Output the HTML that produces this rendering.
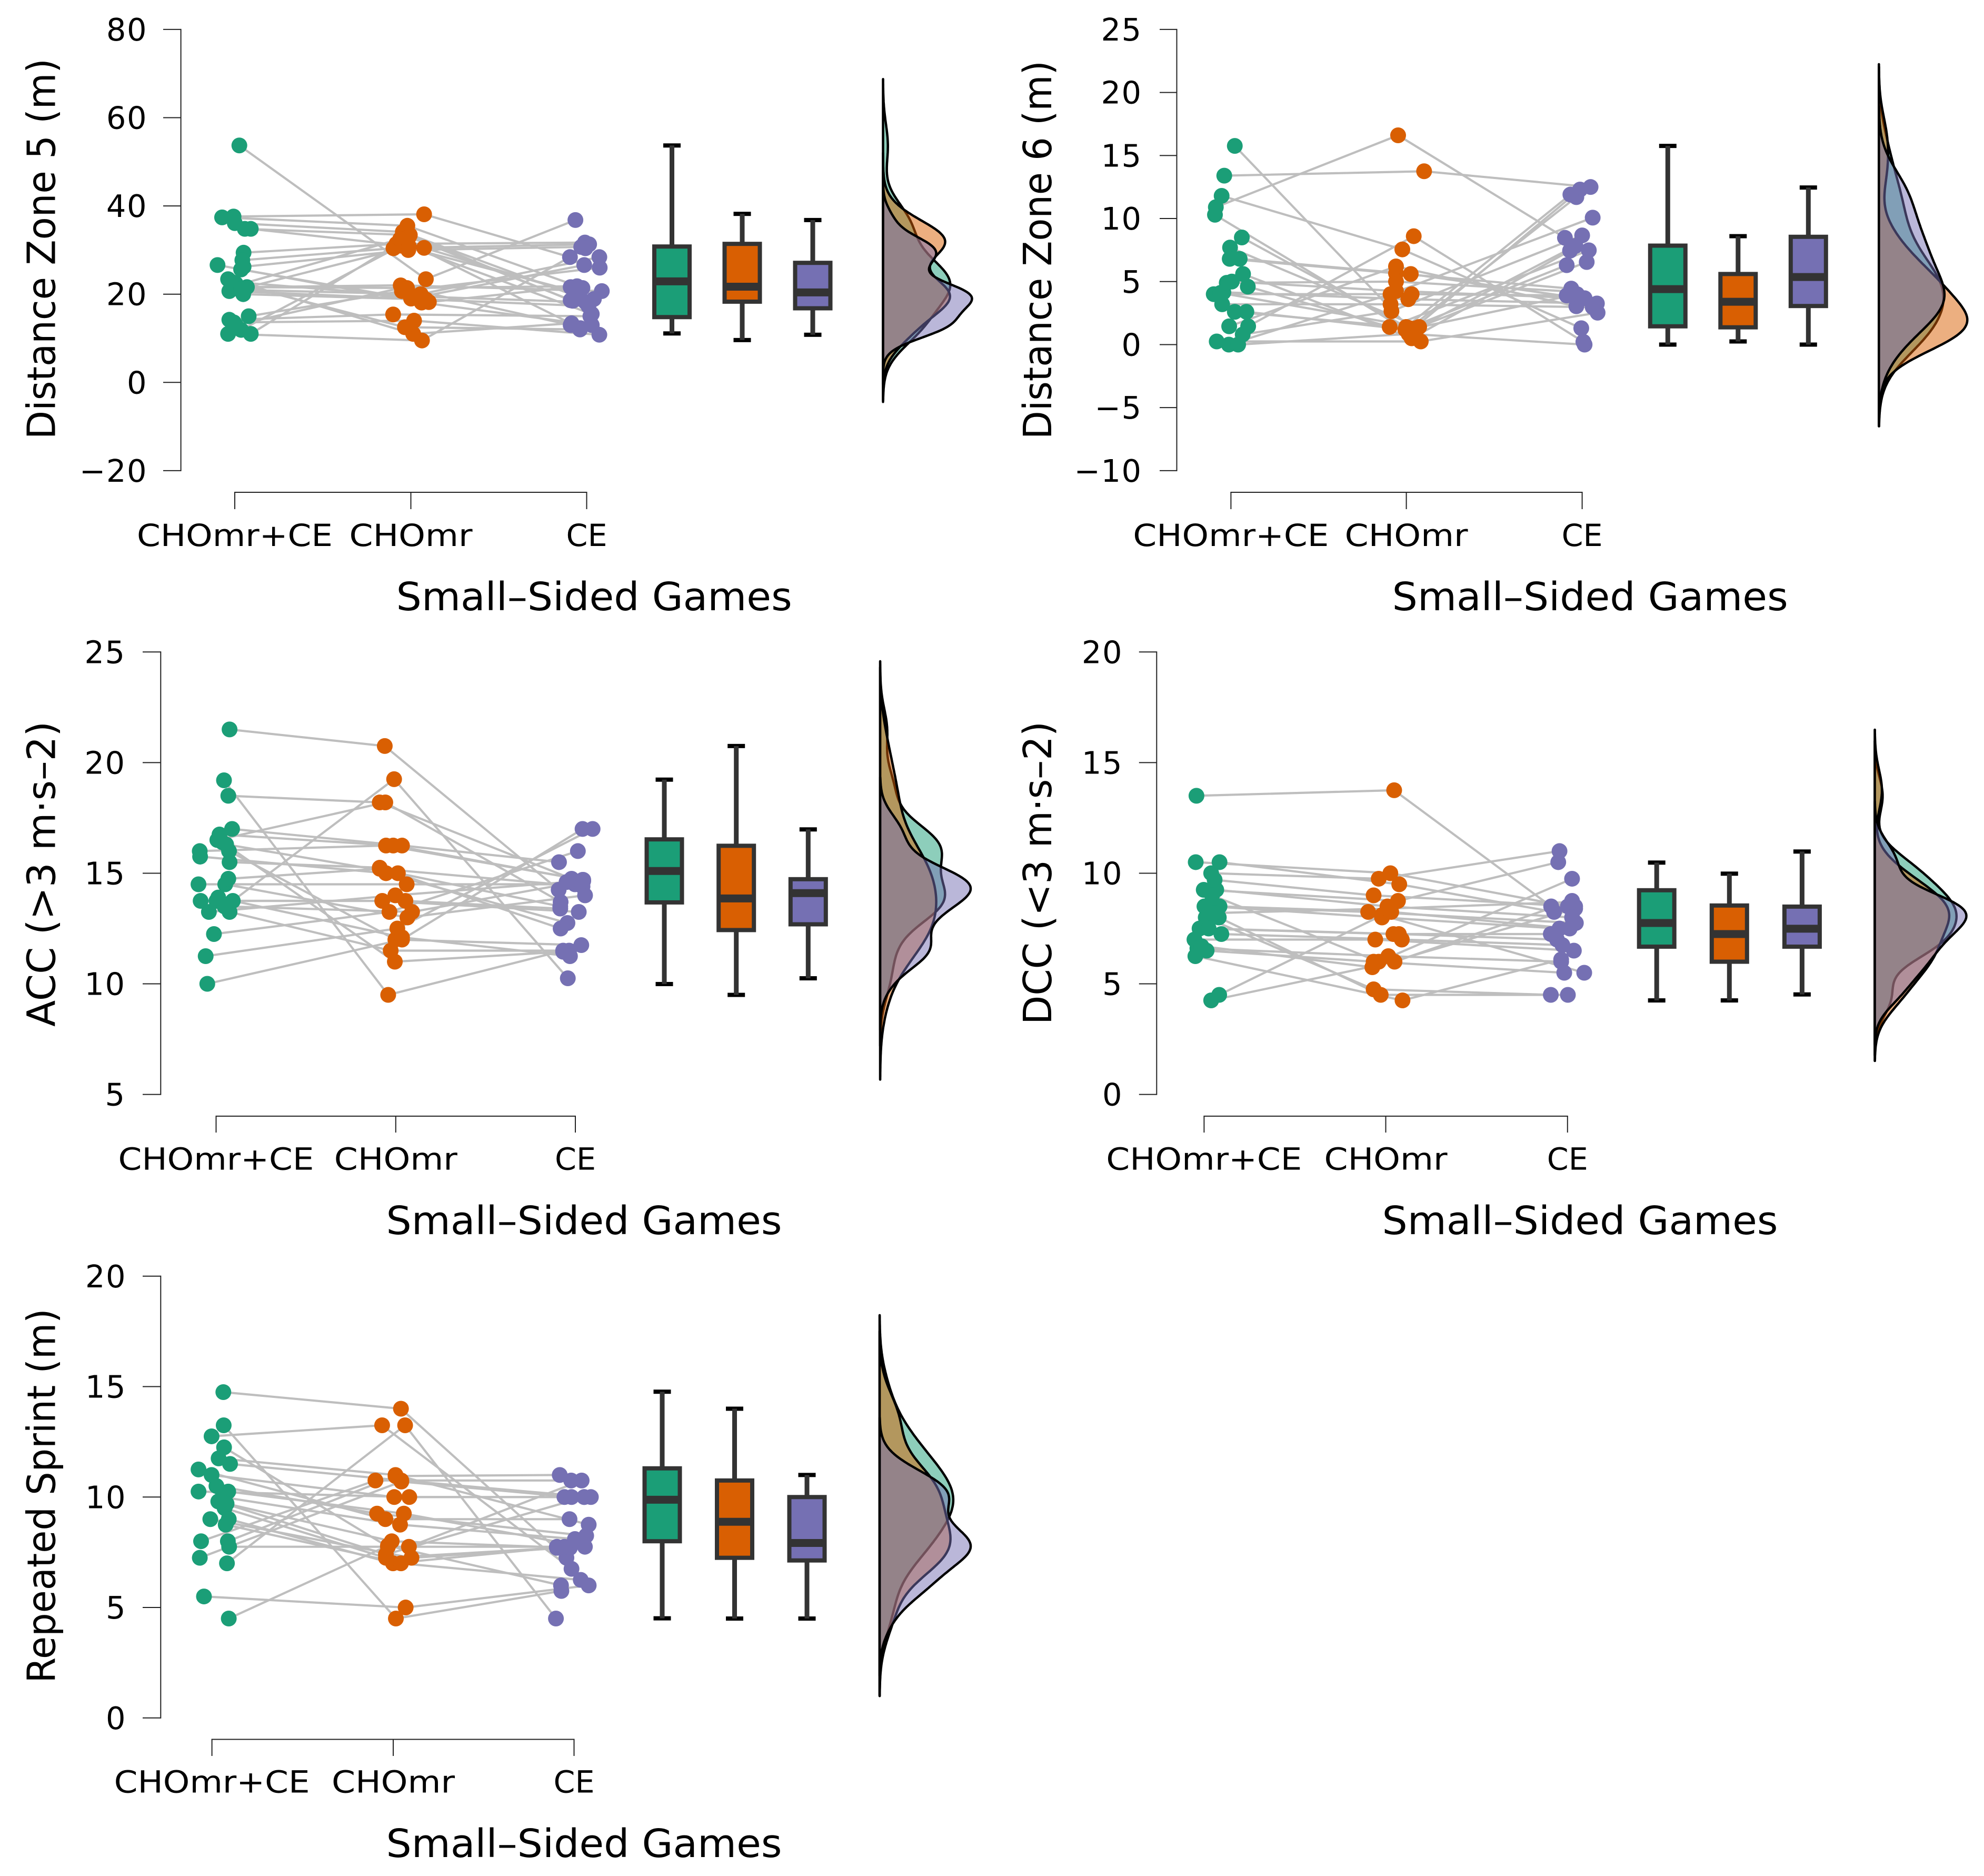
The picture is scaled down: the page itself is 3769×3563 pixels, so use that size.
<!DOCTYPE html>
<html lang="en">
<head>
<meta charset="utf-8">
<title>Raincloud plots of Small-Sided Games</title>
<style>
html,body{margin:0;padding:0;background:#fff;}
svg{display:block;}
text{font-family:"DejaVu Sans","Liberation Sans",sans-serif;fill:#000;}
.cat{font-size:58px;text-anchor:middle;}
.tick{font-size:59px;text-anchor:end;letter-spacing:1.5px;}
.title{font-size:74px;text-anchor:middle;}
</style>
</head>
<body>
<svg id="chart" xmlns="http://www.w3.org/2000/svg" width="3769" height="3563" viewBox="0 0 3769 3563">
<rect x="0" y="0" width="3769" height="3563" fill="#ffffff"/>

<g id="panel-dz5">
<text class="title" transform="translate(104.4,472.6) rotate(-90)" textLength="723" lengthAdjust="spacingAndGlyphs">Distance Zone 5 (m)</text>
<text class="title" x="1128.7" y="1159" textLength="752" lengthAdjust="spacingAndGlyphs">Small–Sided Games</text>
<text class="cat" x="446" y="1037" textLength="372" lengthAdjust="spacingAndGlyphs">CHOmr+CE</text>
<text class="cat" x="780.5" y="1037" textLength="234" lengthAdjust="spacingAndGlyphs">CHOmr</text>
<text class="cat" x="1114.5" y="1037" textLength="78" lengthAdjust="spacingAndGlyphs">CE</text>
</g>

<g id="panel-dz6">
<text class="title" transform="translate(1997,474.6) rotate(-90)" textLength="719" lengthAdjust="spacingAndGlyphs">Distance Zone 6 (m)</text>
<text class="title" x="3020.7" y="1159" textLength="752" lengthAdjust="spacingAndGlyphs">Small–Sided Games</text>
<text class="cat" x="2338.4" y="1037" textLength="372" lengthAdjust="spacingAndGlyphs">CHOmr+CE</text>
<text class="cat" x="2671.6" y="1037" textLength="234" lengthAdjust="spacingAndGlyphs">CHOmr</text>
<text class="cat" x="3005.6" y="1037" textLength="78" lengthAdjust="spacingAndGlyphs">CE</text>
</g>

<g id="panel-acc">
<text class="title" transform="translate(104.4,1660) rotate(-90)" textLength="580" lengthAdjust="spacingAndGlyphs">ACC (&gt;3 m·s–2)</text>
<text class="title" x="1109.5" y="2344" textLength="752" lengthAdjust="spacingAndGlyphs">Small–Sided Games</text>
<text class="cat" x="410.5" y="2221.6" textLength="372" lengthAdjust="spacingAndGlyphs">CHOmr+CE</text>
<text class="cat" x="751.8" y="2221.6" textLength="234" lengthAdjust="spacingAndGlyphs">CHOmr</text>
<text class="cat" x="1093" y="2221.6" textLength="78" lengthAdjust="spacingAndGlyphs">CE</text>
</g>

<g id="panel-dcc">
<text class="title" transform="translate(1997,1658) rotate(-90)" textLength="576" lengthAdjust="spacingAndGlyphs">DCC (&lt;3 m·s–2)</text>
<text class="title" x="3001.5" y="2344" textLength="752" lengthAdjust="spacingAndGlyphs">Small–Sided Games</text>
<text class="cat" x="2287.4" y="2221.6" textLength="372" lengthAdjust="spacingAndGlyphs">CHOmr+CE</text>
<text class="cat" x="2632.5" y="2221.6" textLength="234" lengthAdjust="spacingAndGlyphs">CHOmr</text>
<text class="cat" x="2977.8" y="2221.6" textLength="78" lengthAdjust="spacingAndGlyphs">CE</text>
</g>

<g id="panel-rs">
<text class="title" transform="translate(104.4,2841) rotate(-90)" textLength="711" lengthAdjust="spacingAndGlyphs">Repeated Sprint (m)</text>
<text class="title" x="1109.5" y="3527" textLength="752" lengthAdjust="spacingAndGlyphs">Small–Sided Games</text>
<text class="cat" x="402.6" y="3404.6" textLength="372" lengthAdjust="spacingAndGlyphs">CHOmr+CE</text>
<text class="cat" x="747" y="3404.6" textLength="234" lengthAdjust="spacingAndGlyphs">CHOmr</text>
<text class="cat" x="1090.5" y="3404.6" textLength="78" lengthAdjust="spacingAndGlyphs">CE</text>
</g>
</svg>

<script>
// ---------- Distance Zone 5 ----------
const dz5Ticks = [-20, 0, 20, 40, 60, 80];
const dz5ChoCe = [53.7,37.6,37.4,36.1,34.8,34.8,29.4,27.7,26.6,26.2,25.6,23.4,22.4,21.6,21.6,21,20.7,20,15,14.2,13.6,11,11.9,11,13,21.8,22.8,21.2];
const dz5Cho = [23.4,38.1,35.5,34.1,33.4,30.5,31.4,30.4,18.1,30,18.2,11,12.5,22,21.4,20,19,18.8,20.7,15.4,14,9.5,31,33,21.5,32.5,19.5,30.8];
const dz5Ce = [36.8,28.4,21.4,19.5,18.6,18.9,31.7,31.3,13,30.7,21.6,13.4,12,20.7,21.8,28.4,26.6,17.3,26,15,10.8,30.4,20.5,18.5,13,12.3,18.2,15.5];
const dz5ChoCeJitter = [.026,-.007,-.072,0,.057,.091,.05,.043,-.098,.05,.036,-.038,.005,.069,.012,-.021,-.031,.048,.079,-.031,-.005,-.038,.036,.091,.005,-.005,-.019,.036];
const dz5ChoJitter = [.086,.076,-.019,-.045,-.005,.076,-.081,-.098,.062,-.014,.103,.014,-.033,-.057,-.021,.057,.002,.086,-.05,-.1,.019,.064,-.057,-.01,-.045,-.06,.026,-.01];
const dz5CeJitter = [-.064,-.095,-.024,-.055,-.091,.041,-.01,.014,.029,-.031,-.091,-.086,-.038,.086,-.055,.072,-.014,.01,.074,.021,.072,-.007,-.055,-.079,-.091,-.036,-.007,.029];
const dz5Q1 = [14.8,18.3,16.8];
const dz5Median = [22.9,21.7,20.4];
const dz5Q3 = [30.8,31.4,27.1];
const dz5WhiskerLow = [11.1,9.6,10.8];
const dz5WhiskerHigh = [53.7,38.2,36.8];
const dz5Smoothing = [1.5,1.05,.85];
const dz5Cut = [3.1,3.5,4];

// ---------- Distance Zone 6 ----------
const dz6Ticks = [-10, -5, 0, 5, 10, 15, 20, 25];
const dz6ChoCe = [15.76,13.4,11.8,10.9,10.3,8.5,7.7,6.8,6.8,5.6,5,4.6,4,4.15,3.2,2.6,2.6,1.45,1.45,.8,.25,0,0,4.1,4.9];
const dz6Cho = [1.3,13.75,7.55,16.6,1,1.4,1.4,5.65,5.6,.5,4.25,1.4,4,3.6,3.2,1.3,1.2,6.2,8.6,2.65,.25,4,.85,1.35,5];
const dz6Ce = [11.7,12.5,1.3,8.47,12.3,11.9,7.83,4.44,3.74,7.45,3.68,7.48,3.9,3.26,2.97,6.55,6.3,3.04,.22,8.66,2.53,10.07,0,4,4.2];
const dz6ChoCeJitter = [.022,-.038,-.053,-.086,-.091,.062,-.005,-.007,.05,.069,.005,.096,-.098,-.043,-.05,.022,.088,-.01,.098,.067,-.081,-.012,.041,-.06,-.024];
const dz6ChoJitter = [.017,.1,-.024,-.048,.017,-.002,.072,-.06,.024,.029,-.06,-.096,.029,.01,-.091,.053,-.007,-.06,.041,-.086,.081,-.091,.012,.065,-.06];
const dz6CeJitter = [-.033,.048,-.005,-.098,-.012,-.067,-.038,-.062,-.041,-.069,.014,.038,-.088,.084,.06,.026,-.088,-.033,.007,0,.088,.06,.014,-.029,-.053];
const dz6Q1 = [1.45,1.37,3.06];
const dz6Median = [4.4,3.4,5.36];
const dz6Q3 = [7.85,5.6,8.55];
const dz6WhiskerLow = [0,.25,0];
const dz6WhiskerHigh = [15.76,8.6,12.46];
const dz6Smoothing = [1.2,1.2,1.2];
const dz6Cut = [3,3,3];

// ---------- ACC ----------
const accTicks = [5, 10, 15, 20, 25];
const accChoCe = [21.5,19.2,18.5,17,16.75,16.5,16.3,16,15.75,16,15.5,13.75,14.5,14.5,13.75,13.75,14.75,13.25,13.25,13.5,12.25,11.25,10,16.4,13.9];
const accCho = [20.75,9.5,18.2,16.25,16.25,18.2,15,16.25,15,12,15.25,19.25,14.5,13,13.75,13.75,15.2,14,11.5,13.25,13.25,12.5,12,11,12.1];
const accCe = [14.25,11.5,14.75,15.5,14.7,13.7,13.5,14.7,12.75,11.75,12.5,10.25,14.5,14,13.25,13.4,14.4,14.6,11.5,14.65,16,17,17,11.45,11.25];
const accChoCeJitter = [.075,.044,.068,.089,.019,.007,.056,-.091,-.089,.072,.075,.093,-.098,.051,-.086,.002,.068,-.04,.075,.047,-.012,-.058,-.049,.035,.012];
const accChoJitter = [-.061,-.042,-.089,.035,-.014,-.058,.012,-.054,-.054,-.002,-.089,-.009,.061,.065,-.075,.054,-.089,-.002,-.028,.091,-.035,.009,.035,-.005,.035];
const accCeJitter = [-.093,-.068,-.021,-.091,.04,-.082,-.084,.044,-.044,.033,-.082,-.042,-.002,.054,.019,-.084,.04,-.049,-.035,.044,.014,.096,.04,-.068,-.03];
const accQ1 = [13.68,12.43,12.69];
const accMedian = [15.1,13.86,14.1];
const accQ3 = [16.53,16.24,14.73];
const accWhiskerLow = [9.99,9.5,10.25];
const accWhiskerHigh = [19.23,20.75,16.98];
const accSmoothing = [1,1,1];
const accCut = [3,3,3];

// ---------- DCC ----------
const dccTicks = [0, 5, 10, 15, 20];
const dccChoCe = [13.5,10.5,10.5,10,9.7,9.25,9.25,8.5,8.5,8.5,8,8,7.5,7.5,7.25,7,6.6,6.5,6.25,4.5,4.25,9,6.7,8.2];
const dccCho = [13.75,10,9.5,9.75,9,8.75,8.5,8.25,8.25,8,4.75,4.5,7.25,7.25,7,7,6.25,6,4.25,8.1,6,6,5.75,8.4];
const dccCe = [8.5,8.5,8.25,11,8.5,10.5,8,7.75,7.5,7.5,4.5,4.5,7.25,7,6.75,6.5,6,5.5,6.1,5.5,8.75,9.75,8.4,8.7];
const dccChoCeJitter = [-.042,-.046,.085,.039,.058,-.002,.067,.002,.085,.044,.009,.081,-.025,.025,.095,-.053,-.037,.014,-.048,.083,.039,.044,-.014,.055];
const dccChoJitter = [.046,.025,.074,-.039,-.067,.067,.009,-.097,.03,-.021,-.067,-.028,.042,.072,.088,-.058,.014,-.067,.092,-.021,.048,-.039,-.074,.009];
const dccCeJitter = [-.09,.002,-.074,-.044,.042,-.051,.025,.046,.012,-.044,-.092,.002,-.092,-.058,-.028,.035,-.035,-.018,-.035,.092,.025,.025,.042,.025];
const dccQ1 = [6.68,6,6.68];
const dccMedian = [7.75,7.25,7.49];
const dccQ3 = [9.23,8.54,8.49];
const dccWhiskerLow = [4.25,4.25,4.52];
const dccWhiskerHigh = [10.48,9.98,10.98];
const dccSmoothing = [1,1,1];
const dccCut = [3,3,3];

// ---------- Repeated Sprint ----------
const rsTicks = [0, 5, 10, 15, 20];
const rsChoCe = [14.75,13.25,12.75,12.25,11.75,11.5,11.25,11,10.5,10.25,10.25,10,9.7,9.5,9,9,8.75,8,8,7.75,7,7.25,5.5,4.5,9.8];
const rsCho = [14,4.5,13.25,7.75,11,10.75,9,10,9.25,10,9.25,8.75,8,7.25,7.25,7,7,10.75,10.95,7.75,13.25,10.7,5,7.8,7.4];
const rsCe = [7.25,5.75,6.75,7.75,8.75,10,9,10,8.25,10,7.75,8.1,7.7,7.7,7.72,7.75,6.25,10.75,11,10.75,4.5,10,6,6,10];
const rsChoCeJitter = [.063,.065,-.002,.067,.037,.1,-.074,-.002,.025,-.074,.09,.058,.081,.07,-.009,.093,.076,-.06,.088,.095,.083,-.067,-.044,.093,.035];
const rsChoJitter = [.044,.016,-.06,-.028,.014,.046,-.042,.007,-.088,.09,.06,.039,-.007,-.039,.102,0,.044,-.097,.014,.088,.067,.046,.07,-.028,-.039];
const rsCeJitter = [-.042,-.07,-.014,-.095,.081,.093,-.025,.056,.067,-.053,.06,.005,-.023,-.095,-.023,-.053,.037,-.016,-.079,.042,-.1,-.014,.081,-.072,.056];
const rsQ1 = [8,7.25,7.13];
const rsMedian = [9.88,8.88,7.92];
const rsQ3 = [11.3,10.75,10];
const rsWhiskerLow = [4.51,4.5,4.5];
const rsWhiskerHigh = [14.77,14,11];
const rsSmoothing = [1.03,1.03,1.03];
const rsCut = [3,3,3];

// ---------- Shared ----------
const groupKeys = ['chomr-ce', 'chomr', 'ce'];
const groupColors = ['#1b9e77', '#d95f02', '#7570b3'];

const panels = [
  {id:'panel-dz5', series:[dz5ChoCe,dz5Cho,dz5Ce], jitter:[dz5ChoCeJitter,dz5ChoJitter,dz5CeJitter], smooth:dz5Smoothing, cut:dz5Cut,
   q1:dz5Q1, med:dz5Median, q3:dz5Q3, lo:dz5WhiskerLow, hi:dz5WhiskerHigh, ticks:dz5Ticks,
   axisX:343.6, tickLeft:310, labelX:280, yTop:55.9, yBot:893.9, vTop:80, vBot:-20,
   catX:[446,780.5,1114.5], lineY:935, tickBot:967, boxX:[1276.5,1410,1544], densX:1677.5, densW:169},
  {id:'panel-dz6', series:[dz6ChoCe,dz6Cho,dz6Ce], jitter:[dz6ChoCeJitter,dz6ChoJitter,dz6CeJitter], smooth:dz6Smoothing, cut:dz6Cut,
   q1:dz6Q1, med:dz6Median, q3:dz6Q3, lo:dz6WhiskerLow, hi:dz6WhiskerHigh, ticks:dz6Ticks,
   axisX:2235.5, tickLeft:2203, labelX:2169.6, yTop:55.9, yBot:893.9, vTop:25, vBot:-10,
   catX:[2338.4,2671.6,3005.6], lineY:935, tickBot:967, boxX:[3168.3,3301.8,3435.3], densX:3569.3, densW:168},
  {id:'panel-acc', series:[accChoCe,accCho,accCe], jitter:[accChoCeJitter,accChoJitter,accCeJitter], smooth:accSmoothing, cut:accCut,
   q1:accQ1, med:accMedian, q3:accQ3, lo:accWhiskerLow, hi:accWhiskerHigh, ticks:accTicks,
   axisX:305.3, tickLeft:271, labelX:238.5, yTop:1238.3, yBot:2078.6, vTop:25, vBot:5,
   catX:[410.5,751.8,1093], lineY:2119.9, tickBot:2151, boxX:[1262,1398.7,1535.3], densX:1672, densW:172},
  {id:'panel-dcc', series:[dccChoCe,dccCho,dccCe], jitter:[dccChoCeJitter,dccChoJitter,dccCeJitter], smooth:dccSmoothing, cut:dccCut,
   q1:dccQ1, med:dccMedian, q3:dccQ3, lo:dccWhiskerLow, hi:dccWhiskerHigh, ticks:dccTicks,
   axisX:2197.3, tickLeft:2163.8, labelX:2133, yTop:1238.3, yBot:2078.6, vTop:20, vBot:0,
   catX:[2287.4,2632.5,2977.8], lineY:2119.9, tickBot:2151, boxX:[3147.2,3285.3,3423.4], densX:3561.5, densW:174},
  {id:'panel-rs', series:[rsChoCe,rsCho,rsCe], jitter:[rsChoCeJitter,rsChoJitter,rsCeJitter], smooth:rsSmoothing, cut:rsCut,
   q1:rsQ1, med:rsMedian, q3:rsQ3, lo:rsWhiskerLow, hi:rsWhiskerHigh, ticks:rsTicks,
   axisX:305.3, tickLeft:271, labelX:240, yTop:2423.8, yBot:3262.8, vTop:20, vBot:0,
   catX:[402.6,747,1090.5], lineY:3303.5, tickBot:3335, boxX:[1258,1395.5,1533], densX:1671, densW:173}
];

const NS = 'http://www.w3.org/2000/svg';
function svgEl(tag, attrs, parent) {
  const el = document.createElementNS(NS, tag);
  for (const k in attrs) el.setAttribute(k, attrs[k]);
  parent.appendChild(el);
  return el;
}
function quantile(sorted, p) {
  const h = (sorted.length - 1) * p, i = Math.floor(h);
  return sorted[i] + (h - i) * ((sorted[i + 1] === undefined ? sorted[i] : sorted[i + 1]) - sorted[i]);
}
function bandwidth(vals) {
  const n = vals.length, s = vals.slice().sort((a, b) => a - b);
  const m = vals.reduce((a, b) => a + b, 0) / n;
  const sd = Math.sqrt(vals.reduce((a, b) => a + (b - m) * (b - m), 0) / (n - 1));
  const iqr = quantile(s, .75) - quantile(s, .25);
  return 0.9 * Math.min(sd, iqr / 1.34) * Math.pow(n, -0.2);
}
function kde(vals, adjust, cut) {
  const bw = bandwidth(vals) * adjust;
  const lo = Math.min.apply(null, vals) - cut * bw, hi = Math.max.apply(null, vals) + cut * bw;
  const pts = [];
  for (let i = 0; i <= 240; i++) {
    const v = lo + (hi - lo) * i / 240;
    let d = 0;
    for (const x of vals) { const z = (v - x) / bw; d += Math.exp(-.5 * z * z); }
    pts.push([v, d / (vals.length * bw * Math.sqrt(2 * Math.PI))]);
  }
  return pts;
}

panels.forEach(function (p) {
  const root = document.getElementById(p.id);
  const yScale = v => p.yTop + (p.vTop - v) * (p.yBot - p.yTop) / (p.vTop - p.vBot);
  const spacing = (p.catX[2] - p.catX[0]) / 2;
  const xScale = (cat, jit) => p.catX[0] + (cat + jit) * spacing;

  // y axis
  const axisY = svgEl('line', {x1:p.axisX, x2:p.axisX, y1:yScale(p.ticks[0]), y2:yScale(p.ticks[p.ticks.length - 1]), stroke:'#222', 'stroke-width':2, 'stroke-linecap':'square'}, root);
  
  
  p.ticks.forEach(function (t) {
    const tm = svgEl('line', {x1:p.tickLeft, x2:p.axisX, y1:yScale(t), y2:yScale(t), stroke:'#222', 'stroke-width':2}, root);
    
    
    const tl = svgEl('text', {class:'tick', x:p.labelX, y:yScale(t) + 21}, root);
    
    
    tl.textContent = String(t).replace('-', '\u2212');
  });

  // x axis
  const axisX = svgEl('line', {x1:p.catX[0], x2:p.catX[2], y1:p.lineY, y2:p.lineY, stroke:'#222', 'stroke-width':2, 'stroke-linecap':'square'}, root);
  
  
  p.catX.forEach(function (cx) {
    const tm = svgEl('line', {x1:cx, x2:cx, y1:p.lineY, y2:p.tickBot, stroke:'#222', 'stroke-width':2}, root);
    
    
  });

  // paired subject lines
  const n = p.series[0].length;
  for (let i = 0; i < n; i++) {
    const pts = [0, 1, 2].map(g => xScale(g, p.jitter[g][i]).toFixed(1) + ',' + yScale(p.series[g][i]).toFixed(1)).join(' ');
    const pl = svgEl('polyline', {points:pts, fill:'none', stroke:'#bebebe', 'stroke-width':4.2}, root);
    
    
  }

  // points
  [0, 1, 2].forEach(function (g) {
    p.series[g].forEach(function (v, i) {
      const c = svgEl('circle', {cx:xScale(g, p.jitter[g][i]), cy:yScale(v), r:15, fill:groupColors[g]}, root);
      
      
    });
  });

  // boxplots
  [0, 1, 2].forEach(function (g) {
    const bx = p.boxX[g];
    const capLo = svgEl('rect', {x:bx - 16.5, y:yScale(p.lo[g]) - 4, width:33, height:8, fill:'#000'}, root);
    
    
    const capHi = svgEl('rect', {x:bx - 16.5, y:yScale(p.hi[g]) - 4, width:33, height:8, fill:'#000'}, root);
    
    
    const wh = svgEl('line', {x1:bx, x2:bx, y1:yScale(p.hi[g]), y2:yScale(p.lo[g]), stroke:'#333', 'stroke-width':9}, root);
    
    
    const box = svgEl('rect', {x:bx - 33.5, y:yScale(p.q3[g]), width:67, height:yScale(p.q1[g]) - yScale(p.q3[g]), fill:groupColors[g], stroke:'#333', 'stroke-width':8}, root);
    
    
    const med = svgEl('line', {x1:bx - 33.5, x2:bx + 33.5, y1:yScale(p.med[g]), y2:yScale(p.med[g]), stroke:'#333', 'stroke-width':15}, root);
    
    
  });

  // densities
  const curves = p.series.map((s, g) => kde(s, p.smooth[g], p.cut[g]));
  let maxD = 0;
  curves.forEach(c => c.forEach(q => { if (q[1] > maxD) maxD = q[1]; }));
  const dScale = d => p.densX + d / maxD * p.densW;
  curves.forEach(function (c, g) {
    let d = 'M' + p.densX + ' ' + yScale(c[0][0]).toFixed(1);
    c.forEach(q => { d += 'L' + dScale(q[1]).toFixed(1) + ' ' + yScale(q[0]).toFixed(1); });
    d += 'L' + p.densX + ' ' + yScale(c[c.length - 1][0]).toFixed(1) + 'Z';
    const path = svgEl('path', {d:d, fill:groupColors[g], 'fill-opacity':.5, stroke:'#000', 'stroke-width':4.5, 'stroke-linejoin':'round'}, root);
    
    
  });
});
</script>
</body>
</html>
